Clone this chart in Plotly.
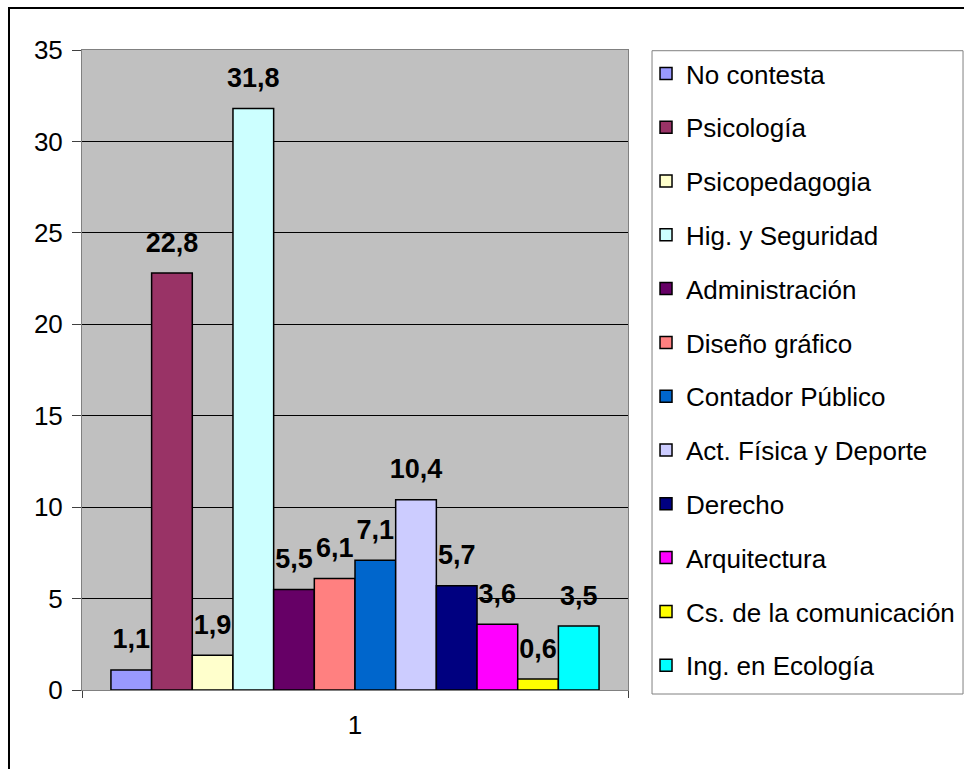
import plotly.graph_objects as go

categories = ["1"]
series_names = [
    "No contesta", "Psicología", "Psicopedagogia", "Hig. y Seguridad",
    "Administración", "Diseño gráfico", "Contador Público",
    "Act. Física y Deporte", "Derecho", "Arquitectura",
    "Cs. de la comunicación", "Ing. en Ecología",
]
series_values = [1.1, 22.8, 1.9, 31.8, 5.5, 6.1, 7.1, 10.4, 5.7, 3.6, 0.6, 3.5]
value_labels = ["1,1", "22,8", "1,9", "31,8", "5,5", "6,1", "7,1", "10,4", "5,7", "3,6", "0,6", "3,5"]
colors = [
    "#9999FF", "#993366", "#FFFFCC", "#CCFFFF", "#660066", "#FF8080",
    "#0066CC", "#CCCCFF", "#000080", "#FF00FF", "#FFFF00", "#00FFFF",
]
y_ticks = [0, 5, 10, 15, 20, 25, 30, 35]

FONT = "Liberation Sans, Arial, sans-serif"

fig = go.Figure()

for name, val, lab, col in zip(series_names, series_values, value_labels, colors):
    fig.add_trace(go.Bar(
        x=categories, y=[val], name=name,
        marker=dict(color=col, line=dict(color="black", width=1.5)),
        offsetgroup=name, legendgroup=name,
    ))
    # value label, sits above its bar
    fig.add_trace(go.Scatter(
        x=categories, y=[val], text=[lab], mode="markers+text",
        textposition="top center",
        textfont=dict(family=FONT, size=27, color="black", weight="bold"),
        marker=dict(size=22, color="rgba(0,0,0,0)"),
        offsetgroup=name, legendgroup=name, showlegend=False,
        cliponaxis=False, hoverinfo="skip",
    ))

fig.update_layout(
    width=964, height=769,
    margin=dict(l=82, r=336, t=50, b=79, autoexpand=False),
    paper_bgcolor="white", plot_bgcolor="#C0C0C0",
    barmode="group", bargap=0.106, bargroupgap=0,
    scattermode="group", scattergap=0.106,
    font=dict(family=FONT, size=26, color="black"),
    legend=dict(
        x=1.033, y=1.0, xanchor="left", yanchor="top",
        font=dict(family=FONT, size=26, color="black"),
        bgcolor="rgba(0,0,0,0)", borderwidth=0,
        traceorder="grouped", tracegroupgap=17, itemclick=False,
    ),
    showlegend=True,
)

fig.update_yaxes(
    range=[0, 35], tickvals=y_ticks, showgrid=True, gridcolor="black", gridwidth=1,
    zeroline=True, zerolinecolor="black", zerolinewidth=1,
    showline=True, linecolor="#808080", linewidth=1, mirror=True,
    ticks="outside", ticklen=9, tickcolor="#404040", ticklabelstandoff=4,
    tickfont=dict(family=FONT, size=26, color="black"),
)
fig.update_xaxes(
    showline=True, linecolor="#808080", linewidth=1, mirror=True,
    ticks="outside", tickson="boundaries", ticklen=7, tickcolor="#404040",
    ticklabelstandoff=12,
    tickfont=dict(family=FONT, size=26, color="black"),
)

# legend frame
fig.add_shape(type="rect", xref="paper", yref="paper",
              x0=1.044, x1=1.6136, y0=-0.00625, y1=0.9989,
              line=dict(color="#808080", width=1), layer="above")
# outer chart border: only left and top edges fall inside the picture
fig.add_shape(type="path", xref="paper", yref="paper",
              path="M -0.1337,-0.1234 L -0.1337,1.0656 L 1.6154,1.0656",
              line=dict(color="black", width=2), layer="above")

# page body has a default 8px margin; drop it so the chart sits at 0,0
fig.write_html("out.html", config={"displayModeBar": False},
               post_script="document.body.style.margin='0';")
